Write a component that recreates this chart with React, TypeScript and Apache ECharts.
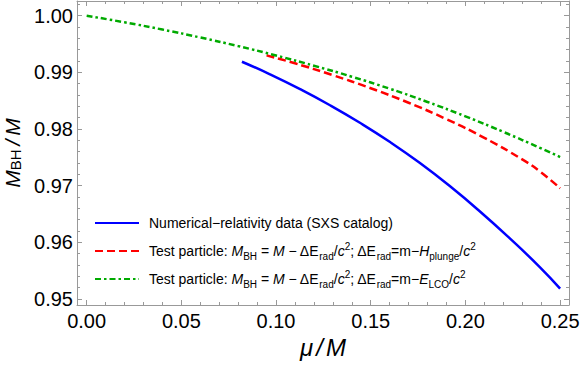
import React, { useEffect, useRef } from "react";
import * as echarts from "echarts";

// ---- data ----
const nrMu = [0.082, 0.0968, 0.1127, 0.1285, 0.1443, 0.1602, 0.176, 0.1919, 0.2077, 0.2236, 0.2394, 0.25];
const nrMass = [0.99188, 0.98966, 0.98704, 0.9842, 0.9811, 0.9777, 0.97399, 0.96989, 0.96545, 0.96065, 0.95559, 0.95183];

const plungeMu = [0.095, 0.11, 0.13, 0.15, 0.17, 0.19, 0.21, 0.23, 0.24, 0.25];
const plungeMass = [0.993, 0.9916, 0.9895, 0.9872, 0.98464, 0.98174, 0.97844, 0.97464, 0.97234, 0.96954];

const lcoMu = [0, 0.02, 0.04, 0.06, 0.08, 0.1, 0.12, 0.14, 0.16, 0.18, 0.2, 0.22, 0.24, 0.25];
const lcoMass = [1.0, 0.99884, 0.99756, 0.99616, 0.99464, 0.99298, 0.99118, 0.98924, 0.98712, 0.98478, 0.98224, 0.9795, 0.97658, 0.97506];

const xMajor = [0, 0.05, 0.1, 0.15, 0.2, 0.25];
const xMinor = [0.01, 0.02, 0.03, 0.04, 0.06, 0.07, 0.08, 0.09, 0.11, 0.12, 0.13, 0.14, 0.16, 0.17, 0.18, 0.19, 0.21, 0.22, 0.23, 0.24];
const yMajor = [0.95, 0.96, 0.97, 0.98, 0.99, 1.0];
const yMinor = [0.952, 0.954, 0.956, 0.958, 0.962, 0.964, 0.966, 0.968, 0.972, 0.974, 0.976, 0.978, 0.982, 0.984, 0.986, 0.988, 0.992, 0.994, 0.996, 0.998, 1.002];

const seriesNames = ["nr", "plunge", "lco"];
const legendLabels: Record<string, string> = {
  nr: "Numerical\u2212relativity data (SXS catalog)",
  plunge:
    "Test particle: {i|M}{sub|BH} = {i|M} \u2212 \u0394E{sub|rad}/{i|c}{sup|2}; \u0394E{sub|rad}=m\u2212{i|H}{sub|plunge}/{i|c}{sup|2}",
  lco:
    "Test particle: {i|M}{sub|BH} = {i|M} \u2212 \u0394E{sub|rad}/{i|c}{sup|2}; \u0394E{sub|rad}=m\u2212{i|E}{sub|LCO}/{i|c}{sup|2}",
};

const FONT = "'Liberation Sans', Arial, Helvetica, sans-serif";
const FRAME = "#999999";
const X_MIN = -0.0051;
const X_MAX = 0.2547;
const Y_MIN = 0.94894;
const Y_MAX = 1.0026;

const zip = (a: number[], b: number[]) => a.map((v, i) => [v, b[i]]);

export default function App() {
  const ref = useRef<HTMLDivElement>(null);
  useEffect(() => {
    if (!ref.current) return;
    const chart = echarts.init(ref.current, undefined, { renderer: "svg" });

    const xAxisBase = (position: string, values: number[], len: number, showLine: boolean, labels: boolean, name?: boolean) => ({
      type: "value",
      position,
      min: X_MIN,
      max: X_MAX,
      axisLine: { show: showLine, onZero: false, lineStyle: { color: FRAME, width: 1 } },
      axisTick: { show: true, inside: true, length: len, customValues: values, lineStyle: { color: FRAME, width: 1 } },
      axisLabel: labels
        ? {
            show: true,
            customValues: values,
            formatter: (v: number) => v.toFixed(2),
            fontSize: 20,
            fontFamily: FONT,
            color: "#000",
            margin: 6,
          }
        : { show: false },
      splitLine: { show: false },
      ...(name
        ? {
            name: "{i|\u03bc}{s|/}{i|M}",
            nameLocation: "middle",
            nameGap: 30,
            nameTextStyle: {
              fontSize: 24,
              fontFamily: FONT,
              color: "#000",
              rich: {
                i: { fontStyle: "italic", fontSize: 24, fontFamily: FONT, color: "#000" },
                s: { fontStyle: "italic", fontSize: 24, fontFamily: FONT, color: "#000", padding: [0, 3, 0, 3] },
              },
            },
          }
        : {}),
    });

    const yAxisBase = (position: string, values: number[], len: number, showLine: boolean, labels: boolean, name?: boolean) => ({
      type: "value",
      position,
      min: Y_MIN,
      max: Y_MAX,
      axisLine: { show: showLine, onZero: false, lineStyle: { color: FRAME, width: 1 } },
      axisTick: { show: true, inside: true, length: len, customValues: values, lineStyle: { color: FRAME, width: 1 } },
      axisLabel: labels
        ? {
            show: true,
            customValues: values,
            formatter: (v: number) => v.toFixed(2),
            fontSize: 20,
            fontFamily: FONT,
            color: "#000",
            margin: 4,
          }
        : { show: false },
      splitLine: { show: false },
      ...(name
        ? {
            name: "{i|M}{sub|BH}{s|/}{i|M}",
            nameLocation: "middle",
            nameGap: 54,
            nameRotate: 90,
            nameTextStyle: {
              fontSize: 20,
              fontFamily: FONT,
              color: "#000",
              lineHeight: 22,
              rich: {
                i: { fontStyle: "italic", fontSize: 21, fontFamily: FONT, color: "#000", lineHeight: 22 },
                s: { fontStyle: "italic", fontSize: 21, fontFamily: FONT, color: "#000", lineHeight: 22, padding: [0, 4, 0, 4] },
                sub: { fontSize: 15, fontFamily: FONT, color: "#000", lineHeight: 12, verticalAlign: "bottom" },
              },
            },
          }
        : {}),
    });

    const richBase = { fontFamily: FONT, color: "#000" };

    const option = {
      animation: false,
      grid: { left: 77, right: 12, top: 1, bottom: 61, containLabel: false, outerBoundsMode: "none" },
      xAxis: [
        xAxisBase("bottom", xMajor, 5, true, true, true),
        xAxisBase("bottom", xMinor, 3, false, false),
        xAxisBase("top", xMajor, 5, true, false),
        xAxisBase("top", xMinor, 3, false, false),
      ],
      yAxis: [
        yAxisBase("left", yMajor, 5, true, true, true),
        yAxisBase("left", yMinor, 3, false, false),
        yAxisBase("right", yMajor, 5, true, false),
        yAxisBase("right", yMinor, 3, false, false),
      ],
      legend: {
        orient: "vertical",
        left: 94,
        top: 213,
        padding: 0,
        itemWidth: 44,
        itemHeight: 14,
        itemGap: 8,
        data: seriesNames,
        formatter: (name: string) => legendLabels[name],
        selectedMode: false,
        itemStyle: { opacity: 0, borderWidth: 0 },
        textStyle: {
          fontSize: 14,
          lineHeight: 20,
          fontFamily: FONT,
          color: "#000",
          padding: [0, 0, 0, 5],
          rich: {
            i: { ...richBase, fontStyle: "italic", fontSize: 14, lineHeight: 20 },
            sub: { ...richBase, fontSize: 10, lineHeight: 13, verticalAlign: "bottom" },
            sup: { ...richBase, fontSize: 10, lineHeight: 13, verticalAlign: "top" },
          },
        },
      },
      series: [
        {
          name: "nr",
          type: "line",
          data: zip(nrMu, nrMass),
          symbol: "none",
          smooth: true,
          lineStyle: { color: "#0000ff", width: 2.5 },
          itemStyle: { color: "#0000ff" },
        },
        {
          name: "plunge",
          type: "line",
          data: zip(plungeMu, plungeMass),
          symbol: "none",
          smooth: true,
          lineStyle: { color: "#ff0000", width: 2.5, type: [8, 4] },
          itemStyle: { color: "#ff0000" },
        },
        {
          name: "lco",
          type: "line",
          data: zip(lcoMu, lcoMass),
          symbol: "none",
          smooth: true,
          lineStyle: { color: "#00aa00", width: 2.5, type: [6, 3, 2.5, 3] },
          itemStyle: { color: "#00aa00" },
        },
      ],
    };

    chart.setOption(option as any);
    return () => chart.dispose();
  }, []);

  return (
    <div
      ref={ref}
      style={{ position: "absolute", left: 0, top: 0, width: 581, height: 366, background: "#fff" }}
    />
  );
}
